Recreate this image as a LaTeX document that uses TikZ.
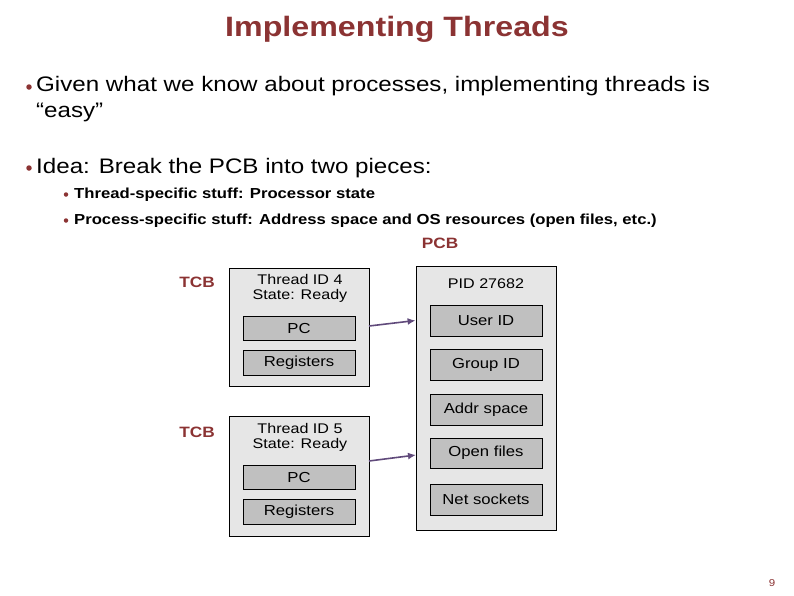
\documentclass[tikz,border=0pt]{standalone}
\usepackage{fontspec}
\setmainfont{Liberation Sans}[FakeStretch=1.15]
\usetikzlibrary{arrows.meta}
\definecolor{dred}{RGB}{139,51,51}
\definecolor{outerfill}{RGB}{230,230,230}
\definecolor{innerfill}{RGB}{192,192,192}
\definecolor{linkcol}{RGB}{96,74,123}
\tikzset{
  outerbox/.style={draw=black, line width=0.8pt, fill=outerfill, inner sep=0pt},
  fieldbox/.style={draw=black, line width=0.8pt, fill=innerfill, minimum width=112pt, inner sep=0pt, font=\fontsize{14.5}{16}\selectfont},
  boxtext/.style={inner sep=0pt, font=\fontsize{14}{16}\selectfont},
  redlabel/.style={inner sep=0pt, text=dred, font=\fontsize{15}{18}\bfseries},
  mainitem/.style={anchor=base west, inner sep=0pt, font=\fontsize{21}{25}\selectfont},
  subitem/.style={anchor=base west, inner sep=0pt, font=\fontsize{14.5}{17}\bfseries},
  dot/.style={fill=dred, draw=none, circle, inner sep=0pt},
  link/.style={draw=linkcol, line width=1.6pt, -{Latex[length=8pt,width=7pt]}}
}
\begin{document}
\begin{tikzpicture}[x=1pt,y=-1pt]
\useasboundingbox (0,0) rectangle (794,595);
% title
\node[anchor=base, inner sep=0pt, text=dred, font=\fontsize{28}{32}\bfseries] (title) at (397,36) {Implementing Threads};
% bullets
\node[dot, minimum size=5.5pt] (d1) at (29,87) {};
\node[mainitem] (b1) at (36,91) {Given what we know about processes, implementing threads is};
\node[mainitem] (b1b) at (36,117) {“easy”};
\node[dot, minimum size=5.5pt] (d2) at (29,168) {};
\node[mainitem] (b2) at (36,173) {Idea: Break the PCB into two pieces:};
\node[dot, minimum size=4.5pt] (d3) at (66,194.5) {};
\node[subitem] (s1) at (74,198) {Thread-specific stuff: Processor state};
\node[dot, minimum size=4.5pt] (d4) at (66,220.5) {};
\node[subitem] (s2) at (74,224) {Process-specific stuff: Address space and OS resources (open files, etc.)};
% labels
\node[redlabel] (pcblabel) at (440,243) {PCB};
\node[redlabel] (tcblabel1) at (197,282) {TCB};
\node[redlabel] (tcblabel2) at (197,432) {TCB};
% TCB 1
\node[outerbox, minimum width=140pt, minimum height=118pt] (tcb1) at (299,327) {};
\node[boxtext] (th4) at (300,279) {Thread ID 4};
\node[boxtext] (st4) at (300,296) {State: Ready};
\node[fieldbox, minimum height=24pt] (pc1) at (299,328) {PC};
\node[fieldbox, minimum height=25pt] (reg1) at (299,362.5) {Registers};
% TCB 2
\node[outerbox, minimum width=140pt, minimum height=120pt] (tcb2) at (299,476) {};
\node[boxtext] (th5) at (300,428) {Thread ID 5};
\node[boxtext] (st5) at (300,445) {State: Ready};
\node[fieldbox, minimum height=24pt] (pc2) at (299,477) {PC};
\node[fieldbox, minimum height=25pt] (reg2) at (299,511.5) {Registers};
% PCB
\node[outerbox, minimum width=140pt, minimum height=264pt] (pcb) at (486,398) {};
\node[boxtext] (pid) at (486,284) {PID 27682};
\node[fieldbox, minimum height=31pt] (uid) at (486,320.5) {User ID};
\node[fieldbox, minimum height=31pt] (gid) at (486,364.5) {Group ID};
\node[fieldbox, minimum height=31pt] (addr) at (486,409.5) {Addr space};
\node[fieldbox, minimum height=30pt] (files) at (486,453) {Open files};
\node[fieldbox, minimum height=31pt] (sock) at (486,499.5) {Net sockets};
% links
\coordinate (l1s) at (369,326);
\coordinate (l2s) at (369,461);
\coordinate (l2e) at (416,455);
\draw[link] (l1s) -- (pcb.west |- uid.center);
\draw[link] (l2s) -- (l2e);
% page number
\node[inner sep=0pt, text=dred, font=\fontsize{10}{12}\selectfont] (pagenum) at (772,583) {9};
\end{tikzpicture}
\end{document}
